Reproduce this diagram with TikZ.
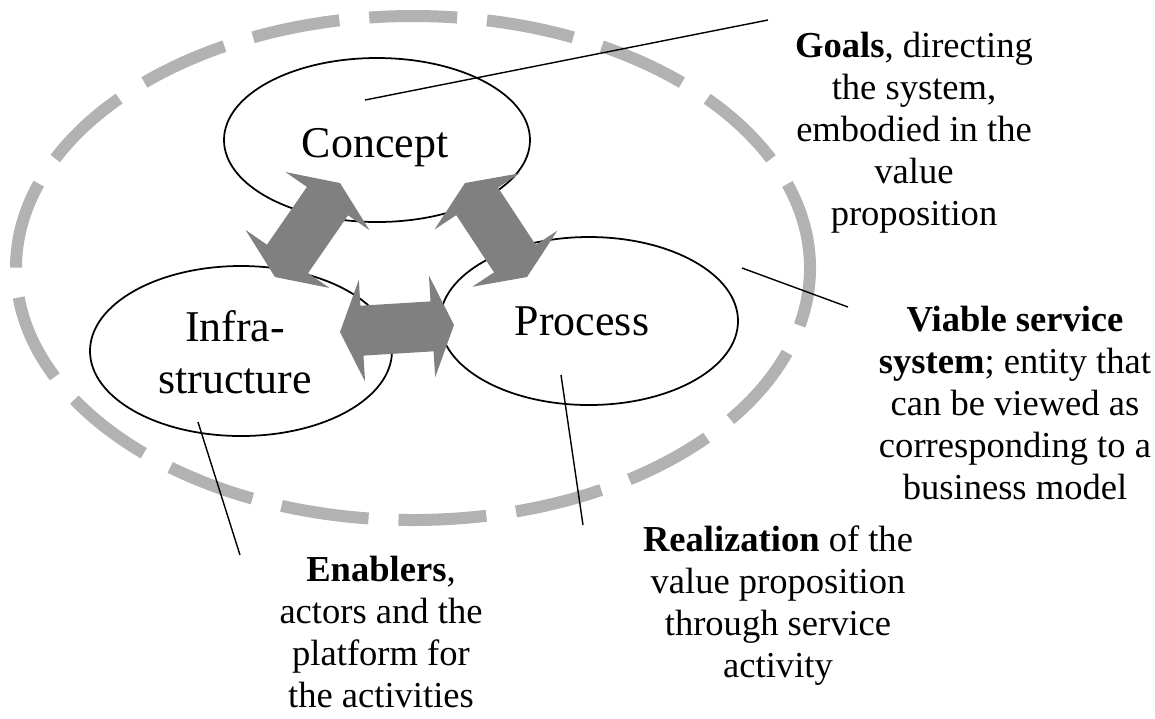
\documentclass[tikz,border=0pt]{standalone}
\usepackage{fontspec}
\setmainfont{Liberation Serif}
\usepackage{tikz}
\usetikzlibrary{positioning,shapes.geometric,calc}

\definecolor{arrowfill}{RGB}{128,128,128}
\definecolor{ringgray}{RGB}{178,178,178}

% fat two-headed arrow between two tip points
\newcommand{\fatarrow}[2]{%
  \coordinate (h1) at ($(#1)!0.22cm!(#2)$);
  \coordinate (h2) at ($(#2)!0.22cm!(#1)$);
  \fill[arrowfill] (#1) -- ($(h1)!0.51cm!90:(#1)$) -- ($(h1)!0.25cm!90:(#1)$)
    -- ($(h2)!0.25cm!-90:(#2)$) -- ($(h2)!0.51cm!-90:(#2)$) -- (#2)
    -- ($(h2)!0.51cm!90:(#2)$) -- ($(h2)!0.25cm!90:(#2)$)
    -- ($(h1)!0.25cm!-90:(#1)$) -- ($(h1)!0.51cm!-90:(#1)$) -- cycle;
}

\begin{document}
\begin{tikzpicture}[
  bubble/.style={draw,ellipse,line width=0.5pt,fill=white,inner sep=0pt},
  bubbletext/.style={align=center,inner sep=0pt,font=\fontsize{12.5}{14.8}\selectfont},
  note/.style={align=center,inner sep=0pt,anchor=north,font=\fontsize{10.4}{12}\selectfont},
  leader/.style={line width=0.4pt}
]
\useasboundingbox (0,0) rectangle (11.55,-7.18);

% the service system
\node[draw=ringgray,line width=0.12cm,dash pattern=on 0.88cm off 0.30cm,
  ellipse,minimum width=7.94cm,minimum height=5.04cm,inner sep=0pt] (vss) at (4.13,-2.68) {};

\node[bubble,minimum width=3.06cm,minimum height=1.64cm] (concept) at (3.77,-1.40) {};
\node[bubble,minimum width=3.02cm,minimum height=1.70cm] (infra) at (2.41,-3.51) {};
\node[bubble,minimum width=2.98cm,minimum height=1.68cm] (process) at (5.89,-3.21) {};

\node[bubbletext,anchor=base] (concept-lbl) at (3.75,-1.57) {Concept};
\node[bubbletext,anchor=north] (infra-lbl) at (2.35,-3.10) {Infra-\\structure};
\node[bubbletext,anchor=base] (process-lbl) at (5.82,-3.35) {Process};

% arrows between the three parts
\coordinate (ci-a) at (2.75,-2.77);
\coordinate (ci-b) at (3.40,-1.83);
\coordinate (cp-a) at (4.65,-1.83);
\coordinate (cp-b) at (5.27,-2.77);
\coordinate (ip-a) at (3.40,-3.32);
\coordinate (ip-b) at (4.54,-3.25);
\fatarrow{ci-a}{ci-b}
\fatarrow{cp-a}{cp-b}
\fatarrow{ip-a}{ip-b}

% annotations
\node[note] (goals) at (9.14,-0.31) {\textbf{Goals}, directing\\the system,\\embodied in the\\value\\proposition};
\node[note] (viable) at (10.15,-3.05) {\textbf{Viable service}\\\textbf{system}; entity that\\can be viewed as\\corresponding to a\\business model};
\node[note] (realize) at (7.78,-5.25) {\textbf{Realization} of the\\value proposition\\through service\\activity};
\node[note] (enable) at (3.81,-5.55) {\textbf{Enablers},\\actors and the\\platform for\\the activities};

\coordinate (goals-in) at (3.65,-1.00);
\coordinate (goals-out) at (7.68,-0.20);
\coordinate (vss-in) at (7.42,-2.68);
\coordinate (vss-out) at (8.48,-3.07);
\coordinate (process-in) at (5.61,-3.75);
\coordinate (process-out) at (5.83,-5.25);
\coordinate (infra-in) at (1.98,-4.22);
\coordinate (infra-out) at (2.40,-5.55);
\draw[leader] (goals-in) -- (goals-out);
\draw[leader] (vss-in) -- (vss-out);
\draw[leader] (process-in) -- (process-out);
\draw[leader] (infra-in) -- (infra-out);
\end{tikzpicture}
\end{document}
